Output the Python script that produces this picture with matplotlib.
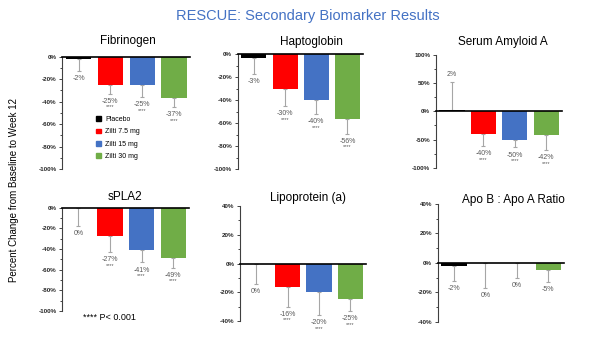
import matplotlib
matplotlib.use("Agg")
import matplotlib.pyplot as plt
from matplotlib.patches import Patch
from matplotlib.ticker import MultipleLocator, FuncFormatter

plt.rcParams['font.family'] = ['Liberation Sans', 'DejaVu Sans']

groups = ['Placebo', 'Zilti 7.5 mg', 'Zilti 15 mg', 'Zilti 30 mg']
colors = ['#000000', '#FF0000', '#4472C4', '#70AD47']

titles = ['Fibrinogen', 'Haptoglobin', 'Serum Amyloid A',
          'sPLA2', 'Lipoprotein (a)', 'Apo B : Apo A Ratio']

fibrinogen = [-2, -25, -25, -37]
fibrinogen_err = [11, 8, 11, 8]
haptoglobin = [-3, -30, -40, -56]
haptoglobin_err = [14, 15, 12, 13]
saa = [2, -40, -50, -42]
saa_err = [50, 22, 14, 27]
spla2 = [0, -27, -41, -49]
spla2_err = [18, 16, 12, 9]
lpa = [0, -16, -20, -25]
lpa_err = [14, 14, 16, 8]
apob = [-2, 0, 0, -5]
apob_err = [10, 17, 10, 8]

values = [fibrinogen, haptoglobin, saa, spla2, lpa, apob]
errors = [fibrinogen_err, haptoglobin_err, saa_err, spla2_err, lpa_err, apob_err]
stars = [[0, 1, 1, 1]] * 5 + [[0, 0, 0, 0]]

ylims = [(-100, 0), (-100, 0), (-100, 100), (-100, 0), (-40, 40), (-40, 40)]
majors = [20, 20, 50, 20, 20, 20]
minors = [10, 10, 25, 10, 10, 10]

W, H = 600, 338
fig = plt.figure(figsize=(W / 100, H / 100), dpi=100)

# pixel boxes (x0, x1, ytop, ybottom)
boxes = [(62, 190, 56.7, 169), (237.7, 363, 54.3, 169.3), (435.7, 562, 55, 167.7),
         (62, 189, 207.7, 311), (240, 366, 206, 321), (437.7, 564, 204, 321.7)]
title_pos = [(127.5, 40.7), (311, 41.7), (503, 42), (125, 196.7), (308, 198), (513, 200)]

label_col = '#595959'
err_col = '#A6A6A6'

for i in range(6):
    x0, x1, yt, yb = boxes[i]
    ax = fig.add_axes([x0 / W, 1 - yb / H, (x1 - x0) / W, (yb - yt) / H])
    vals = values[i]
    errs = errors[i]
    xs = list(range(len(vals)))
    ax.bar(xs, vals, width=0.8, color=colors, zorder=2)
    for j, (v, e) in enumerate(zip(vals, errs)):
        sign = 1 if v > 0 else -1
        ax.errorbar([j], [v], yerr=[[e], [0]] if sign < 0 else [[0], [e]],
                    fmt='none', ecolor=err_col, elinewidth=0.8, capsize=1.5,
                    capthick=0.8, zorder=1)
        end = v + sign * e
        ax.annotate(f"{v}%", (j, end), xytext=(0, 5.5 * sign), textcoords='offset points',
                    ha='center', va='center', fontsize=5, color=label_col,
                    annotation_clip=False)
        if stars[i][j]:
            ax.annotate("****", (j, end), xytext=(0, 9.5 * sign), textcoords='offset points',
                        ha='center', va='center', fontsize=4, color=label_col,
                        annotation_clip=False)
    ax.axhline(0, color='black', lw=1.2, zorder=3, clip_on=False)
    ax.set_xlim(-0.52, 3.5)
    ax.set_ylim(*ylims[i])
    ax.yaxis.set_major_locator(MultipleLocator(majors[i]))
    ax.yaxis.set_minor_locator(MultipleLocator(minors[i]))
    ax.yaxis.set_major_formatter(FuncFormatter(lambda v, p: f"{v:.0f}%"))
    ax.tick_params(axis='y', which='major', length=2.5, width=0.6, labelsize=4.5, pad=1.5,
                   colors='#262626')
    ax.tick_params(axis='y', which='minor', length=1.5, width=0.6, colors='#262626')
    for lab in ax.get_yticklabels():
        lab.set_fontweight('bold')
    ax.set_xticks([])
    for s in ['top', 'right', 'bottom']:
        ax.spines[s].set_visible(False)
    ax.spines['left'].set_linewidth(0.8)
    ax.spines['left'].set_color('#404040')
    ax.patch.set_alpha(0)
    tx, ty = title_pos[i]
    fig.text(tx / W, 1 - ty / H, titles[i], ha='center', va='center', fontsize=8.5)
    if i == 0:
        handles = [Patch(color=c, label=g) for c, g in zip(colors, groups)]
        ax.legend(handles=handles, loc='upper left', bbox_to_anchor=(0.265, 0.47),
                  frameon=False, fontsize=5, handlelength=0.7, handleheight=0.7,
                  handletextpad=0.6, labelspacing=0.75, borderpad=0, borderaxespad=0)

fig.text(308 / W, 1 - 16 / H, 'RESCUE: Secondary Biomarker Results', ha='center',
         va='center', fontsize=10.5, color='#4472C4')
fig.text(14 / W, 1 - 190 / H, 'Percent Change from Baseline to Week 12', rotation=90,
         ha='center', va='center', fontsize=7)
fig.text(83 / W, 1 - 317 / H, '**** P< 0.001', ha='left', va='center', fontsize=6.5)

fig.savefig('out.png', dpi=100)
